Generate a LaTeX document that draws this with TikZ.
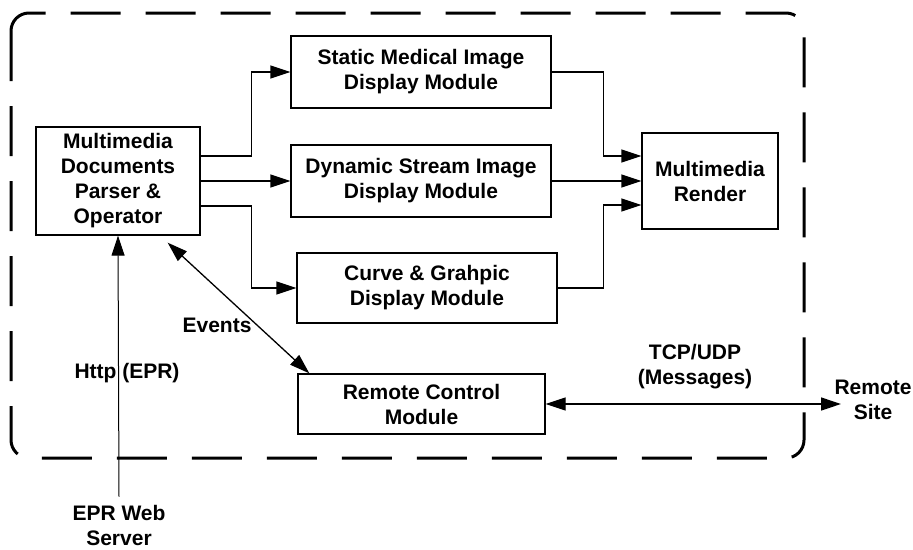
\documentclass[tikz,border=0pt]{standalone}
\usepackage{fontspec}
\setmainfont{Liberation Sans}
\usetikzlibrary{arrows.meta}
\begin{document}
\begin{tikzpicture}[x=1pt,y=-1pt,
  every node/.style={font=\bfseries\fontsize{21}{25}\selectfont, align=center},
  blk/.style={draw, line width=1.3pt, inner sep=0pt},
  lbl/.style={inner sep=0pt},
  arr/.style={line width=1.3pt, -{Triangle[length=20pt,width=13pt]}},
  biarr/.style={line width=1.3pt, {Triangle[length=20pt,width=13pt]}-{Triangle[length=20pt,width=13pt]}},
  frame/.style={line width=3pt, dash pattern=on 50pt off 25pt, rounded corners=18pt}]
\useasboundingbox (0,0) rectangle (913,549);

% system boundary
\draw[frame] (11,13) rectangle (804,458);

% modules
\node[blk, minimum width=164pt, minimum height=108pt] (parser) at (118,181) {Multimedia\\Documents\\Parser \&\\Operator};
\node[blk, minimum width=260pt, minimum height=72pt] (static) at (421,72) {Static Medical Image\\Display Module};
\node[blk, minimum width=260pt, minimum height=72pt] (dynamic) at (421,181) {Dynamic Stream Image\\Display Module};
\node[blk, minimum width=260pt, minimum height=70pt] (curve) at (427,288) {Curve \& Grahpic\\Display Module};
\node[blk, minimum width=136pt, minimum height=96pt] (render) at (710,181) {Multimedia\\Render};
\node[blk, minimum width=247pt, minimum height=60pt] (remote) at (421.5,404) {Remote Control\\Module};

% labels and external parties
\node[lbl] (events) at (217,325) {Events};
\node[lbl] (http) at (127,373) {Http (EPR)};
\node[lbl] (tcp) at (695,367) {TCP/UDP\\(Messages)};
\node[lbl] (site) at (873,400) {Remote\\Site};
\node[lbl] (server) at (119,525) {EPR Web\\Server};
\coordinate (siteend) at (841,404);

% parser to display modules
\draw[arr] ([yshift=25pt]parser.east) -- ++(51,0) |- (static.west);
\draw[arr] (parser.east) -- (dynamic.west);
\draw[arr] ([yshift=-25pt]parser.east) -- ++(51,0) |- (curve.west);

% display modules to render
\draw[arr] (static.east) -- ++(52,0) |- ([yshift=25pt]render.west);
\draw[arr] (dynamic.east) -- (render.west);
\draw[arr] (curve.east) -- ++(46,0) |- ([yshift=-24pt]render.west);

% events between parser and remote control
\draw[biarr] ([xshift=-33pt,yshift=-7pt]parser.south east) -- ([xshift=12pt]remote.north west);

% EPR input
\draw[line width=1pt, -{Triangle[length=20pt,width=13pt]}] ([yshift=8pt]server.north) -- (parser.south);

% remote link
\draw[biarr] (remote.east) -- (siteend);
\end{tikzpicture}
\end{document}
